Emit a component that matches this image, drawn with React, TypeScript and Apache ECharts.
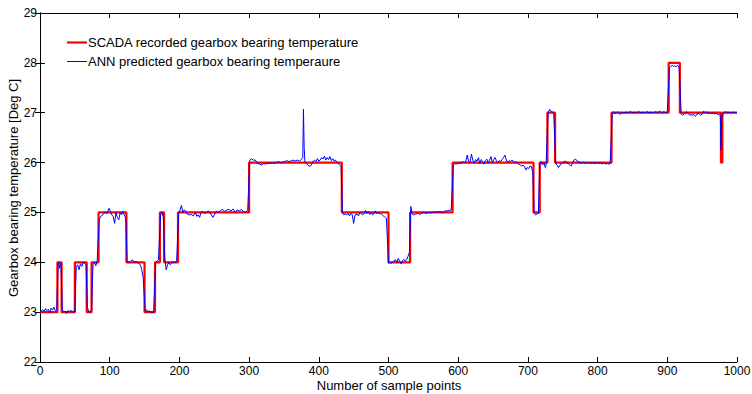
import React, { useEffect, useRef } from "react";
import * as echarts from "echarts";

const xTicks = [0, 1000, 100];
const yTicks = [22, 29, 1];

const xTitle = "Number of sample points";
const yTitle = "Gearbox bearing temperature [Deg C]";
const scadaName = "SCADA recorded gearbox bearing temperature";
const annName = "ANN predicted gearbox bearing temperaure";

// SCADA step points [sample, value] (value held until next sample)
const scadaSteps: [number, number][] = [
  [0, 23], [25, 24], [31, 23], [50, 24], [67, 23], [74, 24], [84, 25], [124, 24],
  [150, 23], [165, 24], [172, 25], [178, 24], [198, 25], [300, 26], [433, 25],
  [500, 24], [531, 25], [592, 26], [708, 25], [717, 26], [728, 27], [739, 26],
  [820, 27], [902, 28], [918, 27], [977, 26], [979, 27], [1000, 27],
];

const annPoints: [number, number][] = [
  [0, 22.98], [2, 23.03], [4, 23.05], [6, 23.02], [8, 23.07], [10, 23.03], [12, 23.06], [14, 22.99],
  [16, 23.08], [18, 23.04], [20, 23.1], [22, 23.03], [24, 23.04],
  [26, 23.95], [27, 24.0], [28, 23.88], [29, 23.98], [30, 23.97],
  [32, 23.05], [34, 23.0], [36, 23.02], [38, 22.97], [40, 23.03], [42, 23.01], [44, 23.04], [46, 23.0], [48, 23.02], [50, 23.0],
  [52, 23.9], [54, 23.95], [56, 23.85], [58, 23.97], [60, 23.92], [62, 24.0], [64, 23.98], [66, 23.95],
  [68, 23.1], [70, 23.0], [72, 23.02], [74, 23.05],
  [76, 23.95], [78, 24.0], [80, 23.93], [82, 24.02],
  [85, 24.85], [87, 24.92], [90, 24.95], [93, 25.0], [96, 24.98], [99, 25.08], [101, 25.02], [103, 24.95],
  [105, 24.92], [107, 24.78], [109, 25.0], [111, 24.9], [113, 24.85], [115, 25.0], [117, 24.95], [119, 25.02],
  [121, 24.95], [123, 24.88],
  [125, 24.02], [128, 24.0], [131, 24.03], [133, 24.05], [135, 24.0], [138, 24.02], [141, 23.98], [144, 23.95],
  [146, 23.85], [148, 23.7],
  [151, 23.02], [153, 23.05], [155, 23.0], [157, 23.03], [159, 23.0], [161, 22.98], [163, 23.02],
  [166, 24.0], [168, 24.03], [170, 24.05],
  [173, 24.95], [175, 25.0], [177, 24.9],
  [179, 24.1], [181, 23.85], [183, 23.95], [185, 24.0], [187, 23.95], [189, 23.98], [191, 24.02], [193, 24.0], [196, 24.02],
  [199, 24.98], [201, 25.05], [203, 25.14], [205, 25.0], [207, 25.05], [209, 25.03], [211, 24.97], [214, 24.95],
  [217, 24.96], [220, 24.93], [223, 25.0], [225, 24.92], [227, 24.95], [229, 24.9], [231, 25.0], [233, 25.02],
  [236, 24.98], [239, 25.0], [242, 25.03], [245, 24.97], [248, 24.9], [250, 24.95], [253, 25.02], [256, 25.0],
  [259, 25.04], [262, 25.06], [265, 25.02], [268, 25.05], [271, 25.06], [274, 25.03], [277, 25.07], [280, 25.0],
  [283, 25.05], [286, 25.03], [289, 25.06], [292, 25.02], [295, 25.0], [298, 25.05],
  [301, 26.05], [303, 26.08], [306, 26.05], [309, 26.05], [312, 25.98], [315, 25.97], [318, 25.95], [321, 25.98],
  [324, 25.97], [327, 25.99], [330, 25.98], [333, 26.0], [336, 25.98], [339, 26.0], [342, 26.02], [345, 26.0],
  [348, 26.01], [351, 26.02], [354, 26.04], [357, 26.02], [360, 26.03], [363, 26.05], [366, 26.03], [369, 26.05],
  [372, 26.03], [375, 26.06], [377, 26.1], [378, 27.07], [379, 26.3], [380, 26.02], [382, 26.0], [384, 25.95],
  [386, 25.93], [388, 25.93], [390, 25.97], [392, 26.03], [394, 26.05], [396, 26.02], [398, 26.08], [400, 26.03],
  [402, 26.05], [404, 26.1], [406, 26.07], [408, 26.13], [410, 26.05], [412, 26.1], [414, 26.06], [416, 26.12],
  [418, 26.04], [420, 26.08], [422, 26.03], [424, 26.05], [426, 26.0], [428, 25.98], [430, 25.95], [432, 25.93],
  [434, 25.0], [436, 24.95], [438, 24.97], [440, 24.95], [442, 24.98], [444, 24.93], [446, 24.98], [448, 24.95],
  [450, 24.78], [452, 24.95], [455, 24.97], [457, 24.93], [459, 25.0], [461, 24.97], [463, 24.95], [465, 24.98],
  [467, 25.04], [469, 24.98], [471, 25.02], [473, 24.96], [475, 25.0], [477, 24.95], [479, 24.97], [481, 25.03],
  [483, 24.98], [485, 25.0], [487, 24.97], [489, 24.98], [491, 24.95], [493, 24.93], [495, 24.9], [497, 24.88],
  [500, 23.98], [502, 24.0], [504, 23.98], [507, 24.02], [510, 24.05], [512, 24.0], [514, 24.08], [516, 24.02],
  [518, 23.97], [520, 24.03], [522, 24.06], [524, 24.02], [526, 24.05], [528, 24.12], [530, 24.2],
  [532, 25.12], [534, 24.97], [536, 24.95], [539, 24.97], [542, 24.98], [545, 24.96], [548, 24.99], [551, 25.0],
  [554, 24.98], [557, 25.0], [560, 24.99], [563, 25.0], [566, 25.01], [569, 25.0], [572, 25.02], [575, 25.01],
  [578, 25.0], [581, 25.03], [584, 25.03], [587, 25.04], [590, 25.05],
  [593, 25.95], [595, 25.97], [597, 25.98], [599, 25.97], [601, 26.0], [603, 25.98], [605, 26.0], [607, 26.02],
  [609, 25.99], [611, 26.03], [613, 26.15], [615, 26.02], [617, 26.0], [619, 26.17], [621, 26.05], [623, 25.98],
  [625, 26.06], [627, 26.03], [629, 26.1], [631, 25.98], [633, 26.06], [635, 26.02], [637, 25.97], [639, 26.04],
  [641, 26.07], [643, 25.99], [645, 26.05], [647, 26.12], [649, 26.0], [651, 26.06], [653, 26.1], [655, 26.03],
  [657, 26.0], [659, 26.04], [661, 26.02], [663, 26.06], [665, 26.1], [667, 26.15], [669, 26.05], [671, 26.0],
  [673, 26.04], [675, 26.02], [677, 26.05], [679, 26.03], [681, 26.0], [683, 26.02], [685, 25.99], [687, 25.97],
  [689, 25.95], [691, 25.93], [693, 25.95], [695, 25.92], [697, 25.85], [699, 25.9], [701, 25.88], [703, 25.93],
  [705, 25.92], [707, 25.8],
  [709, 25.0], [711, 24.95], [713, 24.97], [715, 24.98],
  [717, 25.97], [719, 26.02], [721, 25.95], [723, 26.0], [725, 25.9], [726, 25.95],
  [729, 27.0], [731, 27.07], [733, 27.03], [735, 27.02], [737, 26.98],
  [740, 25.97], [742, 25.95], [744, 25.9], [746, 25.95], [748, 25.97], [750, 26.0], [752, 26.02], [754, 26.03],
  [756, 26.0], [758, 25.98], [760, 25.95], [762, 25.93], [764, 25.98], [766, 26.05], [768, 26.07], [770, 26.05],
  [772, 26.0], [774, 26.02], [776, 25.98], [778, 26.0], [780, 26.0], [782, 25.98], [784, 26.0], [786, 25.99],
  [788, 26.0], [790, 25.98], [792, 26.0], [794, 25.99], [796, 25.98], [798, 26.0], [800, 25.99], [802, 25.98],
  [804, 26.0], [806, 25.97], [808, 25.99], [810, 25.98], [812, 25.97], [814, 25.98], [816, 25.97], [818, 25.98],
  [821, 26.97], [823, 27.02], [825, 26.98], [827, 27.0], [829, 27.02], [831, 26.98], [833, 26.97], [835, 27.0],
  [838, 27.0], [841, 27.01], [844, 27.0], [847, 27.02], [850, 27.0], [853, 27.01], [856, 27.0], [859, 27.02],
  [862, 27.0], [865, 27.01], [868, 27.0], [871, 27.02], [874, 27.0], [877, 27.01], [880, 27.0], [883, 27.02],
  [886, 27.0], [889, 27.03], [892, 27.0], [895, 27.02], [898, 27.0], [900, 27.02],
  [903, 27.9], [905, 27.93], [907, 27.95], [909, 27.93], [911, 27.94], [913, 27.92], [915, 27.95], [917, 27.9],
  [920, 26.97], [922, 26.95], [924, 26.97], [926, 27.0], [928, 27.02], [930, 26.98], [932, 26.95], [934, 26.96],
  [936, 26.95], [938, 26.97], [940, 26.93], [942, 26.95], [944, 27.0], [946, 26.97], [948, 26.95], [950, 26.97],
  [952, 27.03], [954, 27.0], [956, 27.02], [958, 26.98], [960, 27.0], [962, 26.99], [964, 26.98], [966, 27.0],
  [968, 26.97], [970, 26.99], [972, 26.97], [974, 26.96], [976, 26.95], [977, 26.25], [978, 26.9], [980, 26.98],
  [982, 27.0], [984, 27.02], [986, 27.0], [988, 27.01], [990, 27.0], [992, 27.0], [994, 27.01], [996, 27.0],
  [998, 27.0], [1000, 27.0],
];

const FONT = "'Liberation Sans', Arial, Helvetica, sans-serif";

export default function App() {
  const ref = useRef<HTMLDivElement>(null);
  useEffect(() => {
    if (!ref.current) return;
    const chart = echarts.init(ref.current, null, { renderer: "svg" });
    const axisLine = { show: true, lineStyle: { color: "#000", width: 1 } };
    const tick = { show: true, inside: true, length: 5, lineStyle: { color: "#000" } };
    const label = { color: "#000", fontSize: 12, fontFamily: FONT };
    chart.setOption({
      animation: false,
      backgroundColor: "#fff",
      grid: { left: 40, right: 15, top: 13, bottom: 32, containLabel: false, outerBoundsMode: "none" },
      xAxis: [
        {
          type: "value", position: "bottom", min: xTicks[0], max: xTicks[1], interval: xTicks[2],
          axisLine, axisTick: tick, splitLine: { show: false },
          axisLabel: { ...label, margin: 3, formatter: (v: number) => String(v) },
        },
        {
          type: "value", position: "top", min: xTicks[0], max: xTicks[1], interval: xTicks[2],
          axisLine, axisTick: tick, splitLine: { show: false }, axisLabel: { show: false },
        },
      ],
      yAxis: [
        {
          type: "value", position: "left", min: yTicks[0], max: yTicks[1], interval: yTicks[2],
          axisLine, axisTick: tick, splitLine: { show: false },
          axisLabel: { ...label, margin: 3, formatter: (v: number) => String(v) },
        },
        {
          type: "value", position: "right", min: yTicks[0], max: yTicks[1], interval: yTicks[2],
          axisLine, axisTick: tick, splitLine: { show: false }, axisLabel: { show: false },
        },
      ],
      series: [
        {
          name: scadaName, type: "line", data: scadaSteps, step: "end", showSymbol: false,
          lineStyle: { color: "#ff0000", width: 2.2 }, itemStyle: { color: "#ff0000" },
          xAxisIndex: 0, yAxisIndex: 0, z: 2,
        },
        {
          name: annName, type: "line", data: annPoints, showSymbol: false,
          lineStyle: { color: "#0000ff", width: 1 }, itemStyle: { color: "#0000ff" },
          xAxisIndex: 0, yAxisIndex: 0, z: 3,
        },
      ],
      graphic: [
        { type: "line", shape: { x1: 67, y1: 42.5, x2: 87, y2: 42.5 }, style: { stroke: "#ff0000", lineWidth: 2.2 } },
        { type: "text", x: 88, y: 42.5, style: { text: scadaName, fill: "#000", font: `13px ${FONT}`, verticalAlign: "middle" } },
        { type: "line", shape: { x1: 67, y1: 61.5, x2: 87, y2: 61.5 }, style: { stroke: "#0000ff", lineWidth: 1 } },
        { type: "text", x: 88, y: 61.5, style: { text: annName, fill: "#000", font: `13px ${FONT}`, verticalAlign: "middle" } },
        {
          type: "text", x: 389, y: 385,
          style: { text: xTitle, fill: "#000", font: `13px ${FONT}`, align: "center", verticalAlign: "middle" },
        },
        {
          type: "text", x: 13, y: 188, rotation: Math.PI / 2,
          style: { text: yTitle, fill: "#000", font: `13px ${FONT}`, align: "center", verticalAlign: "middle" },
        },
      ],
    });
    return () => chart.dispose();
  }, []);
  return (
    <div
      ref={ref}
      style={{ position: "fixed", left: 0, top: 0, width: 752, height: 394, background: "#fff" }}
    />
  );
}
